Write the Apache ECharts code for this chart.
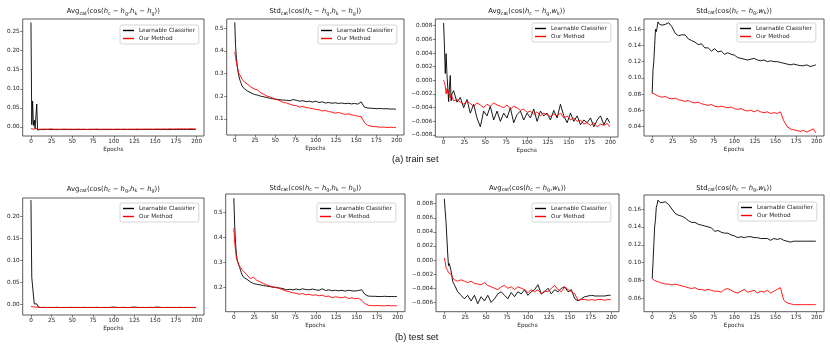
<!DOCTYPE html>
<html>
<head>
<meta charset="utf-8">
<script src="https://cdn.jsdelivr.net/npm/echarts@6/dist/echarts.min.js"></script>
<style>
  html, body { margin: 0; padding: 0; background: #fff; }
  #chart { width: 830px; height: 349px; }
</style>
</head>
<body>
<div id="chart"></div>
<script>
const epochs = [0,1,2,3,4,5,6,7,8,9,10,
  12,16,20,24,28,32,36,40,44,48,
  52,56,60,64,68,72,76,80,84,88,
  92,96,100,104,108,112,116,120,124,128,
  132,136,140,144,148,152,156,160,164,168,
  172,176,180,184,188,192,196,199];

const xTicks = [0,25,50,75,100,125,150,175,200];

// (a) train set
const trainAvgHH_lc = [0.274,0.006,0.068,0.004,0.018,-0.005,-0.004,0.060,-0.008,-0.006,-0.007,
  -0.0065,-0.0070,-0.0062,-0.0068,-0.0066,-0.0070,-0.0064,-0.0068,-0.0066,-0.0069,
  -0.0067,-0.0065,-0.0068,-0.0066,-0.0067,-0.0069,-0.0065,-0.0067,-0.0068,-0.0066,
  -0.0067,-0.0068,-0.0066,-0.0065,-0.0067,-0.0068,-0.0066,-0.0067,-0.0066,-0.0068,
  -0.0066,-0.0067,-0.0065,-0.0067,-0.0068,-0.0066,-0.0067,-0.0066,-0.0068,-0.0067,
  -0.0066,-0.0067,-0.0065,-0.0066,-0.0067,-0.0065,-0.0066,-0.0066];
const trainAvgHH_ours = [-0.004,-0.005,-0.004,-0.006,-0.003,-0.005,-0.004,-0.006,-0.005,-0.006,-0.005,
  -0.0060,-0.0055,-0.0062,-0.0050,-0.0060,-0.0058,-0.0063,-0.0055,-0.0060,-0.0057,
  -0.0062,-0.0056,-0.0060,-0.0058,-0.0063,-0.0056,-0.0060,-0.0055,-0.0061,-0.0058,
  -0.0060,-0.0056,-0.0062,-0.0057,-0.0060,-0.0055,-0.0061,-0.0056,-0.0059,-0.0055,
  -0.0058,-0.0054,-0.0058,-0.0055,-0.0057,-0.0053,-0.0056,-0.0052,-0.0055,-0.0051,
  -0.0054,-0.0050,-0.0053,-0.0049,-0.0052,-0.0050,-0.0048,-0.0052];

const trainStdHH_lc = [0.525,0.42,0.37,0.335,0.31,0.29,0.275,0.265,0.255,0.245,0.238,
  0.232,0.222,0.215,0.208,0.205,0.200,0.197,0.194,0.190,0.188,
  0.186,0.184,0.183,0.182,0.180,0.185,0.182,0.178,0.180,0.176,
  0.178,0.174,0.178,0.172,0.175,0.170,0.172,0.169,0.171,0.168,
  0.170,0.167,0.169,0.166,0.168,0.165,0.175,0.152,0.148,0.147,
  0.146,0.145,0.146,0.144,0.145,0.143,0.144,0.142];
const trainStdHH_ours = [0.395,0.37,0.35,0.33,0.315,0.30,0.295,0.29,0.283,0.275,0.27,
  0.262,0.252,0.240,0.232,0.228,0.215,0.208,0.200,0.196,0.190,
  0.185,0.180,0.172,0.170,0.165,0.160,0.158,0.152,0.155,0.150,
  0.148,0.145,0.142,0.140,0.135,0.137,0.132,0.130,0.125,0.128,
  0.124,0.120,0.122,0.118,0.115,0.112,0.110,0.085,0.072,0.068,
  0.066,0.065,0.063,0.064,0.062,0.063,0.062,0.063];

const trainAvgHW_lc = [0.0084,0.005,0.001,0.0039,0.0009,0.0008,-0.0031,-0.001,0.0007,-0.003,-0.002,
  -0.0015,-0.0032,-0.0025,-0.0040,-0.0028,-0.0048,-0.0035,-0.0055,-0.0068,-0.0045,
  -0.0052,-0.0038,-0.0058,-0.0045,-0.0060,-0.0048,-0.0055,-0.0040,-0.0062,-0.0050,
  -0.0045,-0.0058,-0.0048,-0.0055,-0.0042,-0.0060,-0.0045,-0.0052,-0.0048,-0.0058,
  -0.0044,-0.0055,-0.0035,-0.0052,-0.0062,-0.0048,-0.0060,-0.0052,-0.0065,-0.0058,
  -0.0062,-0.0055,-0.0068,-0.0058,-0.0052,-0.0065,-0.0055,-0.0062];
const trainAvgHW_ours = [0.0000,-0.0003,-0.0008,-0.0020,-0.0012,-0.0018,-0.0015,-0.0022,-0.0025,-0.0020,-0.0024,
  -0.0030,-0.0028,-0.0032,-0.0035,-0.0030,-0.0034,-0.0038,-0.0033,-0.0036,-0.0040,
  -0.0035,-0.0038,-0.0033,-0.0036,-0.0038,-0.0040,-0.0036,-0.0042,-0.0038,-0.0040,
  -0.0044,-0.0042,-0.0047,-0.0045,-0.0050,-0.0046,-0.0052,-0.0048,-0.0050,-0.0053,
  -0.0049,-0.0052,-0.0048,-0.0055,-0.0052,-0.0058,-0.0055,-0.0060,-0.0058,-0.0064,
  -0.0062,-0.0066,-0.0062,-0.0068,-0.0064,-0.0066,-0.0063,-0.0068];

const trainStdHW_lc = [0.081,0.110,0.120,0.140,0.160,0.157,0.162,0.169,0.168,0.166,0.167,
  0.165,0.166,0.168,0.163,0.155,0.152,0.153,0.153,0.148,0.146,
  0.144,0.141,0.142,0.137,0.137,0.133,0.136,0.132,0.133,0.129,
  0.131,0.129,0.128,0.125,0.124,0.123,0.122,0.123,0.124,0.122,
  0.121,0.122,0.120,0.121,0.120,0.120,0.119,0.118,0.117,0.116,
  0.117,0.116,0.115,0.115,0.116,0.114,0.115,0.116];
const trainStdHW_ours = [0.081,0.080,0.079,0.080,0.078,0.079,0.078,0.077,0.078,0.077,0.077,
  0.076,0.077,0.075,0.074,0.075,0.073,0.072,0.071,0.072,0.070,
  0.069,0.070,0.068,0.067,0.066,0.067,0.065,0.064,0.065,0.064,
  0.063,0.064,0.062,0.061,0.062,0.060,0.059,0.060,0.058,0.060,
  0.058,0.057,0.058,0.056,0.057,0.056,0.058,0.047,0.040,0.037,
  0.036,0.035,0.034,0.035,0.033,0.035,0.037,0.032];

// (b) test set
const testAvgHH_lc = [0.237,0.061,0.060,0.059,0.001,0.002,-0.002,0.001,-0.003,-0.006,-0.007,
  -0.0072,-0.0070,-0.0073,-0.0071,-0.0072,-0.0070,-0.0073,-0.0071,-0.0072,-0.0070,
  -0.0072,-0.0071,-0.0073,-0.0070,-0.0072,-0.0071,-0.0072,-0.0070,-0.0073,-0.0071,
  -0.0072,-0.0070,-0.0062,-0.0071,-0.0072,-0.0070,-0.0073,-0.0071,-0.0062,-0.0070,
  -0.0072,-0.0071,-0.0073,-0.0070,-0.0072,-0.0062,-0.0070,-0.0072,-0.0071,-0.0072,
  -0.0071,-0.0072,-0.0070,-0.0072,-0.0071,-0.0072,-0.0071,-0.0072];
const testAvgHH_ours = [-0.0050,-0.0055,-0.0060,-0.0058,-0.0062,-0.0060,-0.0065,-0.0063,-0.0066,-0.0068,-0.0070,
  -0.0073,-0.0071,-0.0074,-0.0072,-0.0073,-0.0071,-0.0074,-0.0072,-0.0073,-0.0071,
  -0.0073,-0.0072,-0.0074,-0.0071,-0.0073,-0.0072,-0.0073,-0.0071,-0.0074,-0.0072,
  -0.0073,-0.0071,-0.0073,-0.0072,-0.0073,-0.0071,-0.0074,-0.0072,-0.0073,-0.0071,
  -0.0073,-0.0072,-0.0074,-0.0071,-0.0073,-0.0072,-0.0071,-0.0073,-0.0072,-0.0073,
  -0.0072,-0.0073,-0.0072,-0.0073,-0.0072,-0.0073,-0.0072,-0.0073];

const testStdHH_lc = [0.557,0.45,0.38,0.34,0.31,0.30,0.29,0.28,0.27,0.26,0.25,
  0.240,0.232,0.222,0.215,0.212,0.210,0.207,0.205,0.203,0.200,
  0.200,0.197,0.195,0.190,0.192,0.190,0.193,0.190,0.194,0.191,
  0.190,0.193,0.190,0.188,0.194,0.187,0.190,0.186,0.188,0.186,
  0.188,0.185,0.188,0.186,0.185,0.187,0.190,0.172,0.165,0.164,
  0.164,0.163,0.163,0.164,0.163,0.163,0.163,0.163];
const testStdHH_ours = [0.437,0.38,0.35,0.32,0.31,0.30,0.29,0.285,0.28,0.275,0.27,
  0.262,0.250,0.235,0.240,0.228,0.222,0.215,0.210,0.205,0.202,
  0.198,0.195,0.190,0.185,0.182,0.178,0.176,0.172,0.175,0.170,
  0.172,0.168,0.170,0.166,0.168,0.163,0.165,0.158,0.162,0.160,
  0.158,0.162,0.155,0.158,0.154,0.156,0.148,0.135,0.128,0.127,
  0.126,0.127,0.126,0.126,0.127,0.126,0.126,0.126];

const testAvgHW_lc = [0.0087,0.0070,0.0055,0.0056,0.0010,-0.0008,-0.0005,-0.0010,-0.0015,-0.0022,-0.0030,
  -0.0035,-0.0045,-0.0050,-0.0055,-0.0050,-0.0058,-0.0050,-0.0062,-0.0052,-0.0058,
  -0.0050,-0.0060,-0.0055,-0.0048,-0.0045,-0.0050,-0.0055,-0.0046,-0.0052,-0.0045,
  -0.0048,-0.0042,-0.0050,-0.0045,-0.0042,-0.0035,-0.0048,-0.0045,-0.0040,-0.0048,
  -0.0042,-0.0045,-0.0040,-0.0038,-0.0045,-0.0042,-0.0055,-0.0058,-0.0055,-0.0052,
  -0.0051,-0.0050,-0.0051,-0.0051,-0.0051,-0.0051,-0.0050,-0.0050];
const testAvgHW_ours = [0.0003,-0.0002,-0.0010,-0.0012,-0.0015,-0.0018,-0.0016,-0.0018,-0.0020,-0.0022,-0.0025,
  -0.0028,-0.0030,-0.0028,-0.0030,-0.0032,-0.0030,-0.0033,-0.0034,-0.0035,-0.0032,
  -0.0036,-0.0038,-0.0040,-0.0042,-0.0038,-0.0036,-0.0040,-0.0038,-0.0042,-0.0038,
  -0.0040,-0.0042,-0.0046,-0.0042,-0.0045,-0.0042,-0.0048,-0.0044,-0.0045,-0.0040,
  -0.0036,-0.0042,-0.0045,-0.0038,-0.0042,-0.0045,-0.0048,-0.0057,-0.0056,-0.0056,
  -0.0057,-0.0056,-0.0057,-0.0056,-0.0056,-0.0057,-0.0056,-0.0056];

const testStdHW_lc = [0.082,0.100,0.120,0.140,0.148,0.162,0.165,0.170,0.168,0.169,0.167,
  0.166,0.168,0.165,0.160,0.155,0.153,0.152,0.150,0.147,0.145,
  0.145,0.143,0.142,0.141,0.140,0.139,0.135,0.136,0.134,0.133,
  0.133,0.131,0.130,0.128,0.129,0.128,0.129,0.129,0.128,0.128,
  0.127,0.127,0.127,0.125,0.127,0.126,0.127,0.125,0.124,0.123,
  0.124,0.124,0.124,0.124,0.124,0.124,0.124,0.124];
const testStdHW_ours = [0.082,0.081,0.081,0.080,0.080,0.080,0.079,0.079,0.079,0.078,0.078,
  0.077,0.076,0.076,0.075,0.076,0.075,0.074,0.073,0.072,0.071,
  0.072,0.070,0.070,0.069,0.070,0.069,0.068,0.068,0.067,0.070,
  0.071,0.069,0.067,0.066,0.068,0.070,0.067,0.068,0.069,0.066,
  0.068,0.067,0.069,0.066,0.068,0.070,0.072,0.058,0.055,0.054,
  0.053,0.053,0.053,0.053,0.053,0.053,0.053,0.053];

// y tick values of each panel
const yTicks1 = [0, 0.05, 0.1, 0.15, 0.2, 0.25];
const yTicks2 = [0.1, 0.2, 0.3, 0.4, 0.5];
const yTicks3 = [-0.008, -0.006, -0.004, -0.002, 0, 0.002, 0.004, 0.006, 0.008];
const yTicks4 = [0.04, 0.06, 0.08, 0.1, 0.12, 0.14, 0.16];
const yTicks5 = [0, 0.05, 0.1, 0.15, 0.2];
const yTicks6 = [0.2, 0.3, 0.4, 0.5];
const yTicks7 = [-0.006, -0.004, -0.002, 0, 0.002, 0.004, 0.006, 0.008];
const yTicks8 = [0.06, 0.08, 0.1, 0.12, 0.14, 0.16];

const HH = '{i|h}{s|k} − {i|h}{s|g}';
const HW = '{i|w}{s|k}';
const mkTitle = (m, b) => m + '{s|cat}(cos({i|h}{s|c} − {i|h}{s|g},' + b + '))';

const panels = [
  { lc: trainAvgHH_lc, ours: trainAvgHH_ours, ticks: yTicks1, dec: 2, ymin: -0.0237, ymax: 0.283,
    title: mkTitle('Avg', HH), box: [22.7, 19, 181.3, 117], ty: 11.5, leg: [120, 25] },
  { lc: trainStdHH_lc, ours: trainStdHH_ours, ticks: yTicks2, dec: 1, ymin: 0.029, ymax: 0.54,
    title: mkTitle('Std', HH), box: [226.7, 19, 177.3, 116], ty: 11.5, leg: [318, 25] },
  { lc: trainAvgHW_lc, ours: trainAvgHW_ours, ticks: yTicks3, dec: 3, ymin: -0.00829, ymax: 0.00898,
    title: mkTitle('Avg', HW), box: [435.3, 19, 182.7, 118], ty: 11.5, leg: [532, 23] },
  { lc: trainStdHW_lc, ours: trainStdHW_ours, ticks: yTicks4, dec: 2, ymin: 0.0282, ymax: 0.1726,
    title: mkTitle('Std', HW), box: [644, 19, 180, 117], ty: 11, leg: [737, 23] },
  { lc: testAvgHH_lc, ours: testAvgHH_ours, ticks: yTicks5, dec: 2, ymin: -0.0243, ymax: 0.2418,
    title: mkTitle('Avg', HH), box: [22.7, 198, 181.3, 117], ty: 189, leg: [120, 203] },
  { lc: testStdHH_lc, ours: testStdHH_ours, ticks: yTicks6, dec: 1, ymin: 0.1023, ymax: 0.5736,
    title: mkTitle('Std', HH), box: [225.7, 194, 179.3, 117.7], ty: 188, leg: [317, 203] },
  { lc: testAvgHW_lc, ours: testAvgHW_ours, ticks: yTicks7, dec: 3, ymin: -0.00733, ymax: 0.00938,
    title: mkTitle('Avg', HW), box: [436, 194, 183, 117.7], ty: 188, leg: [532, 203] },
  { lc: testStdHW_lc, ours: testStdHW_ours, ticks: yTicks8, dec: 2, ymin: 0.0451, ymax: 0.1757,
    title: mkTitle('Std', HW), box: [644, 195, 180, 116.7], ty: 188, leg: [738, 202] }
];

const FONT = 'DejaVu Sans';
const tickColor = '#333';
const pairs = vals => epochs.map((e, i) => [e, vals[i]]);

const option = {
  animation: false,
  backgroundColor: '#fff',
  grid: [], xAxis: [], yAxis: [], series: [], legend: [], graphic: []
};

panels.forEach((p, k) => {
  const [l, t, w, h] = p.box;
  option.grid.push({ left: l, top: t, width: w, height: h, show: true,
    borderColor: '#333', borderWidth: 0.8, backgroundColor: 'transparent' });
  option.xAxis.push({
    type: 'value', gridIndex: k, min: -9.95, max: 208.95, position: 'bottom',
    axisLine: { show: false, onZero: false },
    axisTick: { show: true, length: 2.5, customValues: xTicks, lineStyle: { color: tickColor, width: 0.6 } },
    axisLabel: { customValues: xTicks, fontSize: 5.7, fontFamily: FONT, color: '#222', margin: 3 },
    splitLine: { show: false },
    name: 'Epochs', nameLocation: 'middle', nameGap: 11,
    nameTextStyle: { fontSize: 5.7, fontFamily: FONT, color: '#222' }
  });
  option.yAxis.push({
    type: 'value', gridIndex: k, min: p.ymin, max: p.ymax, position: 'left',
    axisLine: { show: false, onZero: false },
    axisTick: { show: true, length: 2.5, customValues: p.ticks, lineStyle: { color: tickColor, width: 0.6 } },
    axisLabel: { customValues: p.ticks, fontSize: 5.7, fontFamily: FONT, color: '#222', margin: 3,
      formatter: v => v.toFixed(p.dec).replace('-', '\u2212') },
    splitLine: { show: false }
  });
  option.series.push({
    name: 'Learnable Classifier', type: 'line', xAxisIndex: k, yAxisIndex: k,
    data: pairs(p.lc), showSymbol: false, color: '#000',
    lineStyle: { color: '#000', width: 0.9 }
  });
  option.series.push({
    name: 'Our Method', type: 'line', xAxisIndex: k, yAxisIndex: k,
    data: pairs(p.ours), showSymbol: false, color: '#ff0000',
    lineStyle: { color: '#ff0000', width: 0.9 }
  });
  option.legend.push({
    left: p.leg[0], top: p.leg[1], orient: 'vertical',
    data: ['Learnable Classifier', 'Our Method'],
    icon: 'rect', itemWidth: 11, itemHeight: 1.4, itemGap: 1,
    padding: [2, 4, 2, 3],
    backgroundColor: 'rgba(255,255,255,0.85)',
    borderColor: '#cccccc', borderWidth: 0.8, borderRadius: 2,
    textStyle: { fontSize: 5.7, fontFamily: FONT, color: '#222', lineHeight: 7 }
  });
  option.graphic.push({
    type: 'text', x: l + w / 2, y: p.ty,
    style: {
      text: p.title, align: 'center', verticalAlign: 'middle',
      fontSize: 6.8, fontFamily: FONT, fill: '#111', lineHeight: 9,
      rich: {
        s: { fontSize: 4.8, fontFamily: FONT, lineHeight: 5, verticalAlign: 'bottom', fill: '#111' },
        i: { fontSize: 6.8, fontFamily: FONT, fontStyle: 'italic', fill: '#111' }
      }
    }
  });
});

// sub-captions
option.graphic.push({ type: 'text', x: 392, y: 159.3,
  style: { text: '(a) train set', fontSize: 9.2, fontFamily: 'Liberation Sans', fill: '#111', verticalAlign: 'middle' } });
option.graphic.push({ type: 'text', x: 395, y: 337.3,
  style: { text: '(b) test set', fontSize: 9.2, fontFamily: 'Liberation Sans', fill: '#111', verticalAlign: 'middle' } });

const chart = echarts.init(document.getElementById('chart'), null, { renderer: 'canvas' });
chart.setOption(option);
</script>
</body>
</html>
